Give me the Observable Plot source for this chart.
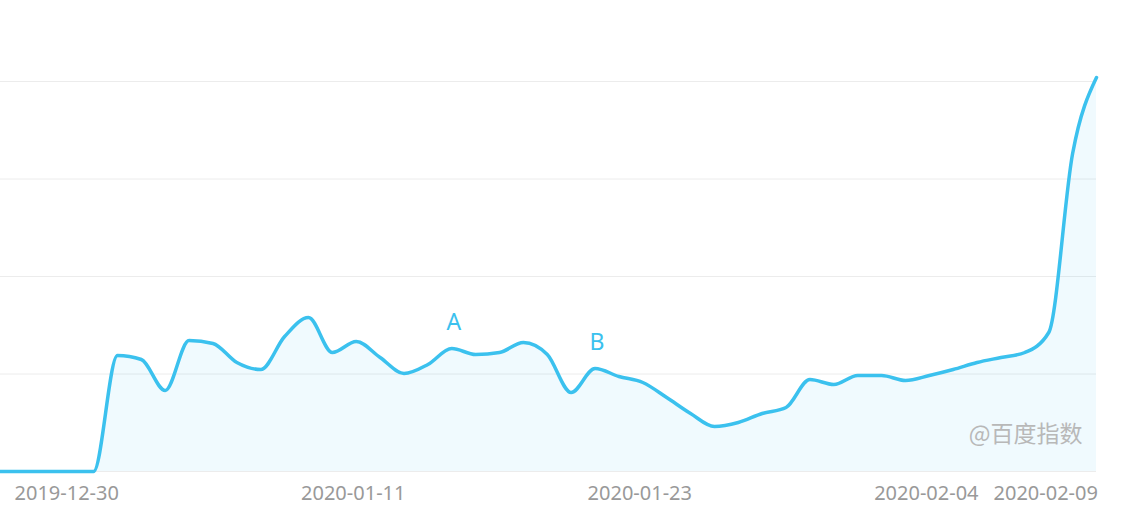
<!DOCTYPE html>
<html>
<head>
<meta charset="utf-8">
<script src="https://cdn.jsdelivr.net/npm/d3@7"></script>
<script src="https://cdn.jsdelivr.net/npm/@observablehq/plot@0.6"></script>
<style>
  html, body { margin: 0; padding: 0; background: #fff; }
  #chart svg { display: block; }
</style>
</head>
<body>
<div id="chart"></div>
<script>
// Daily series, 2019-12-27 .. 2020-02-11
const startDate = "2019-12-27";
const endDate = "2020-02-11";
const values = [
  0, 0, 0, 0, 0,
  2380, 2297, 1662, 2687, 2626, 2236, 2092, 2769, 3159, 2441,
  2667, 2338, 2010, 2195, 2523, 2400, 2441, 2646, 2400, 1621,
  2113, 1949, 1826, 1518, 1190, 923, 1005, 1190, 1313, 1887,
  1785, 1969, 1969, 1867, 1969, 2092, 2236, 2338, 2441, 2851,
  6523, 8082
];
const tickDates = ["2019-12-30", "2020-01-11", "2020-01-23", "2020-02-04", "2020-02-09"];
const gridValues = [0, 2000, 4000, 6000, 8000];
const annotationDates = ["2020-01-15", "2020-01-21"];
const annotationLabels = ["A", "B"];
const watermark = "@百度指数";

const days = d3.utcDay.range(new Date(startDate + "T00:00Z"), d3.utcDay.offset(new Date(endDate + "T00:00Z"), 1));
const data = days.map((date, i) => ({date, value: values[i]}));
const byTime = new Map(data.map(d => [+d.date, d.value]));
const annotations = annotationDates.map((s, i) => {
  const date = new Date(s + "T00:00Z");
  return {date, value: byTime.get(+date), label: annotationLabels[i]};
});

const lineColor = "#3bc1ee";
const fmt = d3.utcFormat("%Y-%m-%d");
const curve = "monotone-x";

const chart = Plot.plot({
  width: 1134,
  height: 529,
  marginLeft: 0,
  marginRight: 38,
  marginTop: 81,
  marginBottom: 58,
  style: {fontFamily: "'Noto Sans', sans-serif", background: "#fff"},
  x: {
    type: "utc",
    domain: [new Date("2019-12-27T02:27Z"), new Date("2020-02-11T00:00Z")],
    axis: null
  },
  y: {domain: [0, 8000], axis: null},
  marks: [
    Plot.ruleY(gridValues, {stroke: "#ececec", strokeWidth: 1}),
    Plot.areaY(data, {x: "date", y: "value", curve, fill: lineColor, fillOpacity: 0.08}),
    Plot.lineY(data, {x: "date", y: "value", curve, stroke: lineColor, strokeWidth: 3.5}),
    Plot.axisX({
      ticks: tickDates.map(s => new Date(s + "T00:00Z")),
      tickFormat: fmt,
      tickSize: 0,
      tickPadding: 14,
      fontSize: 20,
      fill: "#999",
      dx: -3,
      label: null
    }),
    Plot.text(annotations, {x: "date", y: "value", text: "label", dy: -26, dx: 2, fontSize: 23, fill: lineColor}),
    Plot.text([watermark], {frameAnchor: "bottom-right", dx: -14, dy: -30, fontSize: 23, fill: "#b8b8b8", fontFamily: "'Noto Sans CJK SC', sans-serif"})
  ]
});
document.getElementById("chart").appendChild(chart);
</script>
</body>
</html>
